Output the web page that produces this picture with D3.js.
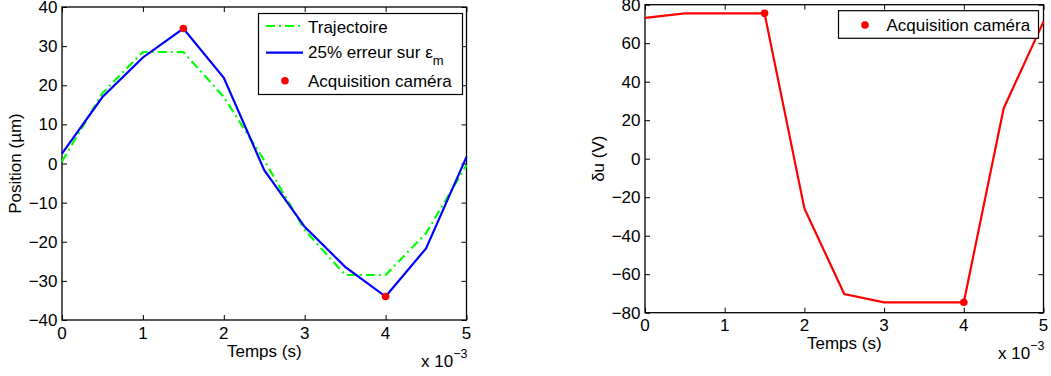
<!DOCTYPE html>
<html>
<head>
<meta charset="utf-8">
<script src="https://cdn.jsdelivr.net/npm/d3@7"></script>
<style>
  html, body { margin: 0; padding: 0; background: #fff; }
  svg { display: block; }
  text { font-family: "Liberation Sans", Arial, sans-serif; fill: #000; }
</style>
</head>
<body>
<svg id="chart" width="1051" height="376"></svg>
<script>
// ---- data ----
const temps = [0, 0.0005, 0.001, 0.0015, 0.002, 0.0025, 0.003, 0.0035, 0.004, 0.0045, 0.005];
const trajectoire = [0.5, 18, 28.5, 28.5, 17, 0.8, -17, -28.5, -28.5, -17.8, -0.4];
const erreur25 = [2.5, 17, 27.1, 34.5, 21.9, -1.7, -16.2, -26.4, -34, -21.7, 1.7];
const acquisitionT = [0.0015, 0.004];
const acquisitionPos = [34.5, -34];
const deltaU = [73.2, 75.5, 75.5, 75.5, -25.8, -70.3, -74.6, -74.6, -74.6, 26.1, 71.2];
const acquisitionDU = [75.5, -74.6];
const xTicks = [0, 0.001, 0.002, 0.003, 0.004, 0.005];
const yTicksPos = [-40, -30, -20, -10, 0, 10, 20, 30, 40];
const yTicksDU = [-80, -60, -40, -20, 0, 20, 40, 60, 80];
const legendLeft = ["Trajectoire", "25% erreur sur ε", "Acquisition caméra"];
const legendRight = ["Acquisition caméra"];

const svg = d3.select("#chart");
const FS = 17;
const fmtX = d => String(Math.round(d * 1000));
const fmtY = d => (d < 0 ? "\u2212" + Math.abs(d) : String(d));

function panel(cfg) {
  const x = d3.scaleLinear().domain([0, 0.005]).range([cfg.x0, cfg.x1]);
  const y = d3.scaleLinear().domain(cfg.yDomain).range([cfg.yBot, cfg.yTop]);
  const g = svg.append("g");
  const tl = 5;
  const bottom = d3.axisBottom(x).tickValues(xTicks).tickSize(-tl).tickFormat("");
  const top = d3.axisTop(x).tickValues(xTicks).tickSize(-tl).tickFormat("");
  const left = d3.axisLeft(y).tickValues(cfg.yTicks).tickSize(-tl).tickFormat("");
  const right = d3.axisRight(y).tickValues(cfg.yTicks).tickSize(-tl).tickFormat("");
  [[bottom, `translate(0,${cfg.yBot})`], [top, `translate(0,${cfg.yTop})`],
   [left, `translate(${cfg.x0},0)`], [right, `translate(${cfg.x1},0)`]].forEach(([ax, tr]) => {
    const a = g.append("g").attr("transform", tr).call(ax);
    a.select(".domain").remove();
    a.selectAll("line").attr("stroke", "#000").attr("stroke-width", 1);
  });
  g.selectAll(".xl").data(xTicks).enter().append("text")
    .attr("x", d => x(d)).attr("y", cfg.yBot + 18.5)
    .attr("text-anchor", "middle").attr("font-size", FS).text(fmtX);
  g.selectAll(".yl").data(cfg.yTicks).enter().append("text")
    .attr("x", cfg.x0 - 4.5).attr("y", d => y(d) + 6)
    .attr("text-anchor", "end").attr("font-size", FS).text(fmtY);
  g.append("rect").attr("x", cfg.x0).attr("y", cfg.yTop)
    .attr("width", cfg.x1 - cfg.x0).attr("height", cfg.yBot - cfg.yTop)
    .attr("fill", "none").attr("stroke", "#000").attr("stroke-width", 1.3);
  g.append("text").attr("x", (cfg.x0 + cfg.x1) / 2 + cfg.xlabDx).attr("y", cfg.xlabY)
    .attr("text-anchor", "middle").attr("font-size", FS).text("Temps (s)");
  g.append("text").attr("transform", `translate(${cfg.ylabX},${(cfg.yTop + cfg.yBot) / 2}) rotate(-90)`)
    .attr("text-anchor", "middle").attr("font-size", FS).text(cfg.ylab);
  const ex = g.append("text").attr("x", cfg.x1 + 1).attr("y", cfg.expY)
    .attr("text-anchor", "end").attr("font-size", FS);
  ex.append("tspan").text("x 10");
  ex.append("tspan").attr("dy", -9).attr("font-size", 12.5).text("\u22123");
  return { g, x, y };
}

// ---- left panel ----
const L = panel({ x0: 62, x1: 466.5, yTop: 7, yBot: 320, yDomain: [-40, 40], yTicks: yTicksPos,
  ylab: "Position (\u00b5m)", ylabX: 20.5, xlabY: 357, xlabDx: 0, expY: 367 });
const lineL = d3.line().x((d, i) => L.x(temps[i])).y(d => L.y(d));
L.g.append("path").datum(trajectoire).attr("d", lineL).attr("fill", "none")
  .attr("stroke", "#00ff00").attr("stroke-width", 2.2).attr("stroke-dasharray", "9,4,2,4");
L.g.append("path").datum(erreur25).attr("d", lineL).attr("fill", "none")
  .attr("stroke", "#0000ff").attr("stroke-width", 2.2);
L.g.selectAll(".dot").data(acquisitionPos).enter().append("circle")
  .attr("cx", (d, i) => L.x(acquisitionT[i])).attr("cy", d => L.y(d)).attr("r", 3.8).attr("fill", "#ff0000");

const lg = L.g.append("g");
lg.append("rect").attr("x", 258.5).attr("y", 13.5).attr("width", 204).attr("height", 81)
  .attr("fill", "#fff").attr("stroke", "#000").attr("stroke-width", 1.2);
lg.append("line").attr("x1", 266).attr("x2", 303).attr("y1", 26).attr("y2", 26)
  .attr("stroke", "#00ff00").attr("stroke-width", 2.2).attr("stroke-dasharray", "9,4,2,4");
lg.append("line").attr("x1", 266).attr("x2", 303).attr("y1", 52.7).attr("y2", 52.7)
  .attr("stroke", "#0000ff").attr("stroke-width", 2.2);
lg.append("circle").attr("cx", 285).attr("cy", 80.7).attr("r", 3.8).attr("fill", "#ff0000");
lg.append("text").attr("x", 308).attr("y", 33).attr("font-size", FS).text(legendLeft[0]);
const t2 = lg.append("text").attr("x", 308).attr("y", 57.5).attr("font-size", FS);
t2.append("tspan").text(legendLeft[1]);
t2.append("tspan").attr("dy", 7).attr("font-size", 13).text("m");
lg.append("text").attr("x", 308).attr("y", 87.3).attr("font-size", FS).text(legendLeft[2]);

// ---- right panel ----
const R = panel({ x0: 645, x1: 1043.5, yTop: 4.7, yBot: 312.7, yDomain: [-80, 80], yTicks: yTicksDU,
  ylab: "\u03b4u (V)", ylabX: 604, xlabY: 349, xlabDx: 0, expY: 359 });
const lineR = d3.line().x((d, i) => R.x(temps[i])).y(d => R.y(d));
R.g.append("path").datum(deltaU).attr("d", lineR).attr("fill", "none")
  .attr("stroke", "#ff0000").attr("stroke-width", 2.2);
R.g.selectAll(".dot").data(acquisitionDU).enter().append("circle")
  .attr("cx", (d, i) => R.x(acquisitionT[i])).attr("cy", d => R.y(d)).attr("r", 3.8).attr("fill", "#ff0000");

const rg = R.g.append("g");
rg.append("rect").attr("x", 838.5).attr("y", 10.7).attr("width", 200).attr("height", 27.6)
  .attr("fill", "#fff").attr("stroke", "#000").attr("stroke-width", 1.2);
rg.append("circle").attr("cx", 865).attr("cy", 25).attr("r", 3.8).attr("fill", "#ff0000");
rg.append("text").attr("x", 886.5).attr("y", 30.7).attr("font-size", FS).text(legendRight[0]);
</script>
</body>
</html>
